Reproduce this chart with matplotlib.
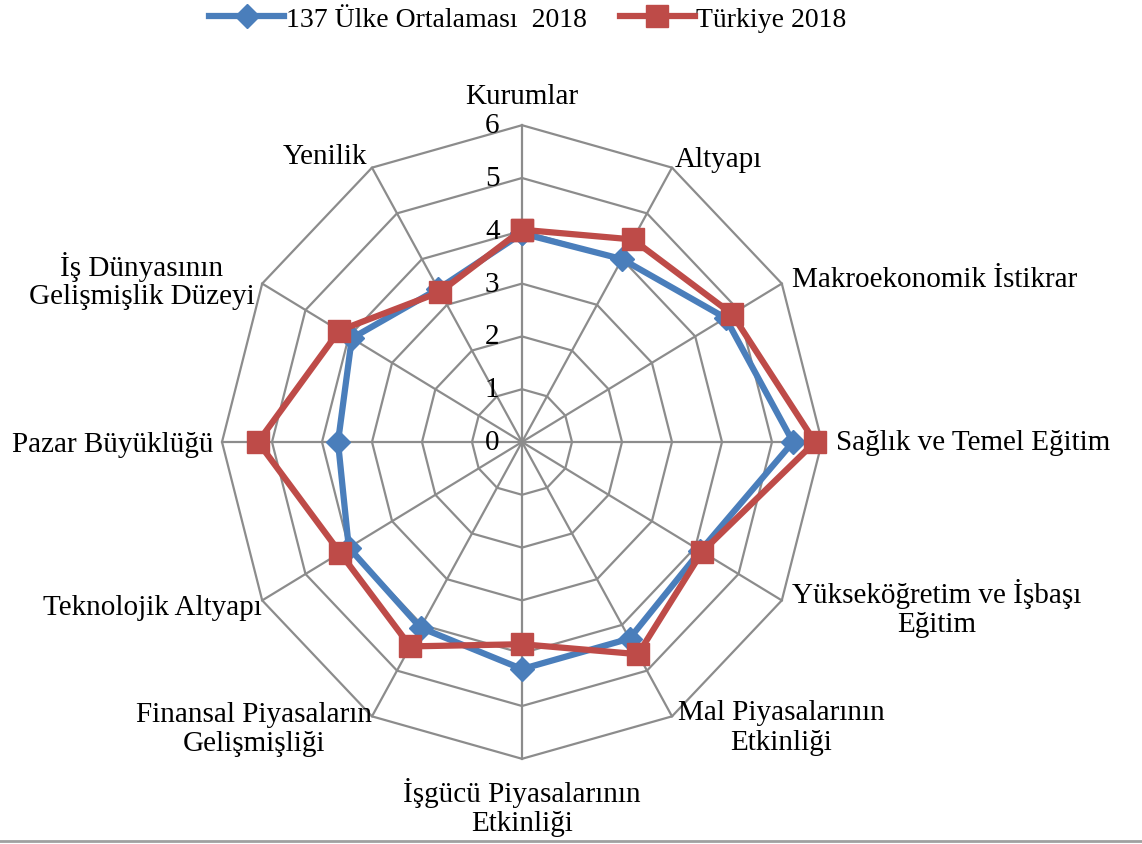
# -*- coding: utf-8 -*-
# Radar chart: 137 country average vs Turkey, 2018 (Excel-style polygon grid)

import numpy as np
import matplotlib
matplotlib.use("Agg")
import matplotlib.pyplot as plt

plt.rcParams['font.family'] = ['Liberation Serif', 'DejaVu Serif']

# Data
categories = ["Kurumlar", "Altyapı", "Makroekonomik İstikrar",
              "Sağlık ve Temel Eğitim", "Yükseköğretim ve İşbaşı\nEğitim",
              "Mal Piyasalarının\nEtkinliği", "İşgücü Piyasalarının\nEtkinliği",
              "Finansal Piyasaların\nGelişmişliği", "Teknolojik Altyapı",
              "Pazar Büyüklüğü", "İş Dünyasının\nGelişmişlik Düzeyi", "Yenilik"]
avg_2018 = [3.95, 4.00, 4.70, 5.42, 4.12, 4.30, 4.30, 4.06, 4.00, 3.68, 3.93, 3.35]
tr_2018 = [4.02, 4.43, 4.85, 5.86, 4.16, 4.64, 3.83, 4.47, 4.20, 5.28, 4.22, 3.28]
series_names = ["137 Ülke Ortalaması  2018", "Türkiye 2018"]
r_ticks = [0, 1, 2, 3, 4, 5, 6]

# label anchor points in pixels (centre of text block)
label_pos = [(522, 97), (718, 160), (935, 280), (973, 443), (937, 609),
             (781, 728), (522, 808), (254, 730), (152, 608), (113, 445),
             (142, 281), (325, 157)]

W, H = 1142, 845
cx, cy = 522, 443
sx, sy = 50.0, 52.8  # px per unit (source image is slightly stretched)

blue = "#4A7EBB"
red = "#BE4B48"
grid_col = "#8C8C8C"
fs = 21

n = len(categories)
ang = np.arange(n) * 2 * np.pi / n


def to_xy(vals):
    vals = np.asarray(vals, dtype=float)
    x = vals * np.sin(ang)
    y = vals * np.cos(ang)
    return np.append(x, x[0]), np.append(y, y[0])


fig = plt.figure(figsize=(W / 100, H / 100), dpi=100)
ax = fig.add_axes([0, 0, 1, 1])
ax.set_xlim(-cx / sx, (W - cx) / sx)
ax.set_ylim(-(H - cy) / sy, cy / sy)
ax.axis("off")

# polygon grid
for r in r_ticks[1:]:
    gx, gy = to_xy([r] * n)
    ax.plot(gx, gy, color=grid_col, lw=1.6, zorder=1)
for a in ang:
    ax.plot([0, 6 * np.sin(a)], [0, 6 * np.cos(a)], color=grid_col, lw=1.6, zorder=1)

# radial tick labels
for r in r_ticks:
    ax.text(-0.45, r, str(r), ha="right", va="center", fontsize=fs, zorder=2)

# series
bx, by = to_xy(avg_2018)
ax.plot(bx, by, color=blue, lw=4.5, marker="D", ms=12, mfc=blue, mec=blue,
        label=series_names[0], zorder=3)
rx, ry = to_xy(tr_2018)
ax.plot(rx, ry, color=red, lw=4.5, marker="s", ms=16, mfc=red, mec=red,
        label=series_names[1], zorder=4)

# category labels
for lab, (px, py) in zip(categories, label_pos):
    fig.text(px / W, 1 - py / H, lab, ha="center", va="center",
             multialignment="center", fontsize=fs, linespacing=1.15)

# legend
ax.legend(loc="center", bbox_to_anchor=(528 / W, 1 - 20 / H), ncol=2,
          frameon=False, fontsize=20, handlelength=2.7, handletextpad=0.05,
          columnspacing=1.2, borderaxespad=0)

# bottom border line of the chart area
ax.plot([-cx / sx, (W - cx) / sx], [-(842 - cy) / sy] * 2, color="#A0A0A0", lw=2)

fig.savefig("out.png", dpi=100)
